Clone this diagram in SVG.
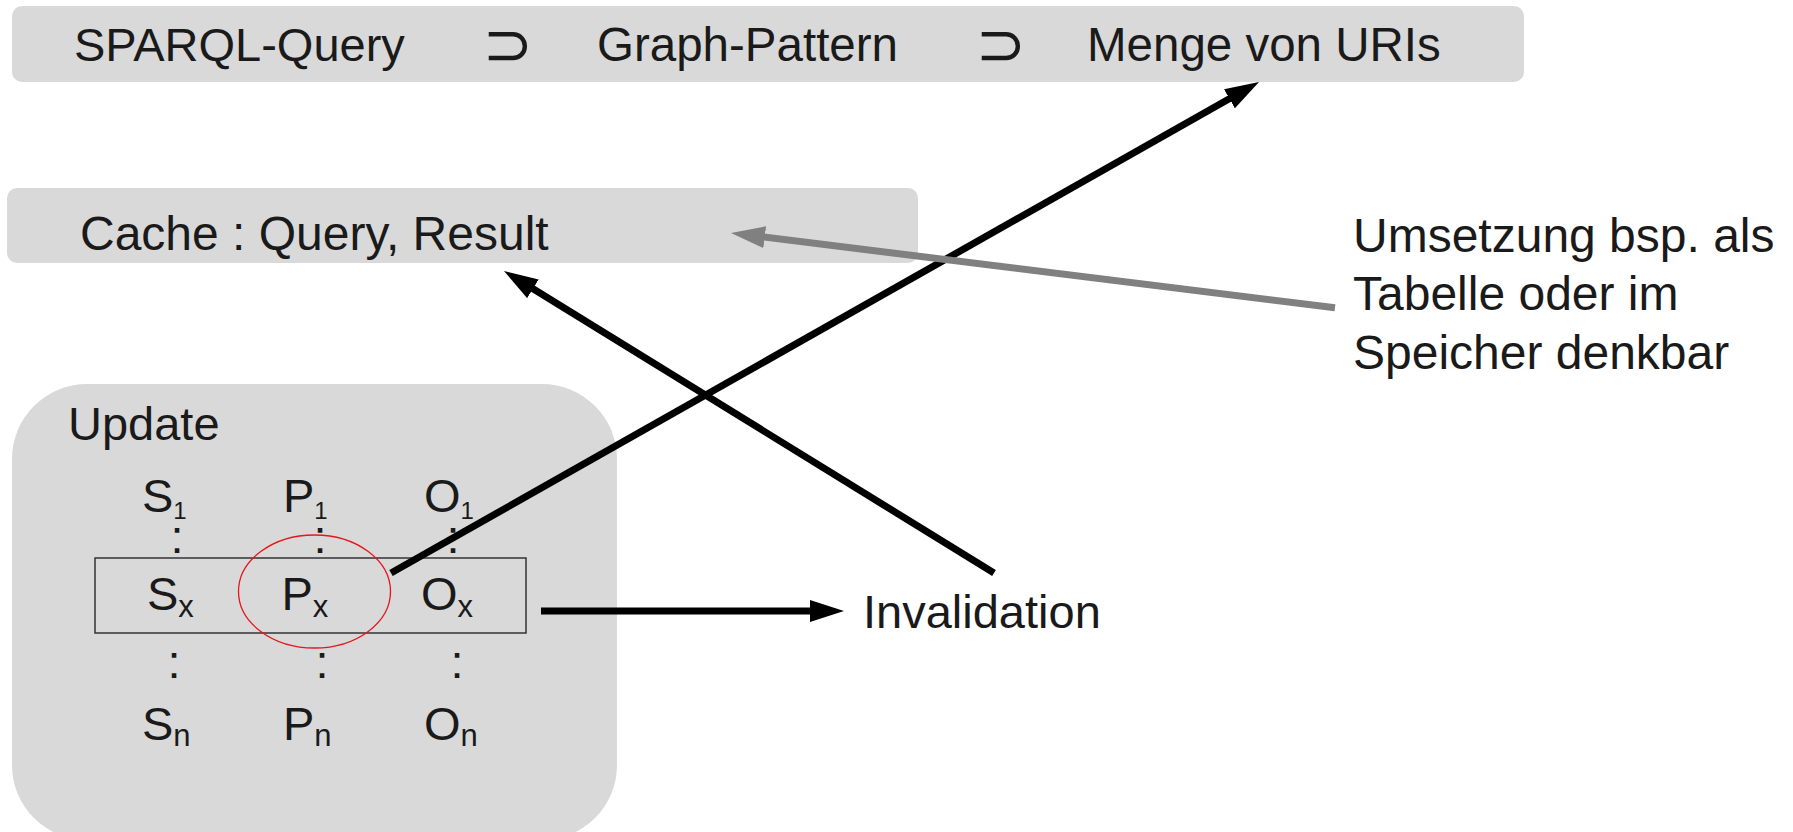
<svg xmlns="http://www.w3.org/2000/svg" width="1793" height="832" viewBox="0 0 1793 832">
<defs>
<style>
.box{fill:#d9d9d9}
.t{font-family:"Liberation Sans",Arial,Helvetica,sans-serif;font-size:47px;fill:#1a1a1a}
.sym{font-family:"DejaVu Sans","Noto Sans",sans-serif;font-size:60px;fill:#1a1a1a;text-anchor:middle}
.s1{font-size:24px}
.sx{font-size:31px}
.dot{text-anchor:middle}
.conn{stroke:#000;stroke-width:7;fill:none}
.conng{stroke:#808080;stroke-width:7;fill:none}
</style>
<marker id="ah" viewBox="0 0 34 22" markerWidth="34" markerHeight="22" refX="8" refY="11" orient="auto" markerUnits="userSpaceOnUse"><path d="M0,0 L34,11 L0,22 z" fill="#000"/></marker>
<marker id="ahg" viewBox="0 0 34 22" markerWidth="34" markerHeight="22" refX="8" refY="11" orient="auto" markerUnits="userSpaceOnUse"><path d="M0,0 L34,11 L0,22 z" fill="#808080"/></marker>
</defs>
<rect width="1793" height="832" fill="#fff"/>

<g id="sparql-bar">
<rect class="box" x="12" y="6" width="1512" height="76" rx="10"/>
<text class="t" x="74" y="61">SPARQL-Query</text>
<text class="sym" x="508" y="65">⊃</text>
<text class="t" style="font-size:47.5px" x="597" y="61">Graph-Pattern</text>
<text class="sym" x="1001" y="65">⊃</text>
<text class="t" style="font-size:47.5px" x="1087" y="61">Menge von URIs</text>
</g>

<g id="cache">
<rect class="box" x="7" y="188" width="911" height="75" rx="10"/>
<text class="t" style="font-size:48px" x="80" y="250">Cache : Query, Result</text>
</g>

<g id="update">
<rect class="box" x="12" y="384" width="605" height="456" rx="75"/>
<text class="t" x="68" y="440">Update</text>
<text class="t" x="142" y="512">S<tspan class="s1" dy="7">1</tspan></text>
<text class="t" x="283" y="512">P<tspan class="s1" dy="7">1</tspan></text>
<text class="t" x="424" y="512">O<tspan class="s1" dy="7">1</tspan></text>
<text class="t dot" x="177" y="553">:</text>
<text class="t dot" x="320" y="553">:</text>
<text class="t dot" x="453" y="553">:</text>
<rect x="95" y="558" width="431" height="75" fill="none" stroke="#333" stroke-width="1.5"/>
<text class="t" x="147" y="610">S<tspan class="sx" dy="7">x</tspan></text>
<text class="t" x="281.5" y="610">P<tspan class="sx" dy="7">x</tspan></text>
<text class="t" x="421" y="610">O<tspan class="sx" dy="7">x</tspan></text>
<ellipse cx="314.5" cy="591.5" rx="76" ry="56.5" fill="none" stroke="#e8141c" stroke-width="1.3"/>
<text class="t dot" x="174" y="678">:</text>
<text class="t dot" x="322" y="678">:</text>
<text class="t dot" x="457" y="678">:</text>
<text class="t" x="142" y="740">S<tspan class="sx" dy="6">n</tspan></text>
<text class="t" x="283" y="740">P<tspan class="sx" dy="6">n</tspan></text>
<text class="t" x="424" y="740">O<tspan class="sx" dy="6">n</tspan></text>
</g>

<g id="invalidation">
<text class="t" x="863" y="628">Invalidation</text>
</g>

<g id="note">
<text class="t" style="font-size:48px" x="1353" y="252">Umsetzung bsp. als</text>
<text class="t" style="font-size:48px" x="1353" y="310">Tabelle oder im</text>
<text class="t" style="font-size:48px" x="1353" y="369">Speicher denkbar</text>
</g>

<g id="connectors">
<line class="conn" x1="391" y1="573" x2="1236.4" y2="94.8" marker-end="url(#ah)"/>
<line class="conn" x1="994" y1="573" x2="526.1" y2="284.6" marker-end="url(#ah)"/>
<line class="conn" x1="541" y1="611" x2="818" y2="611" marker-end="url(#ah)"/>
<line class="conng" x1="1335" y1="307.7" x2="756.8" y2="236.2" marker-end="url(#ahg)"/>
</g>
</svg>
